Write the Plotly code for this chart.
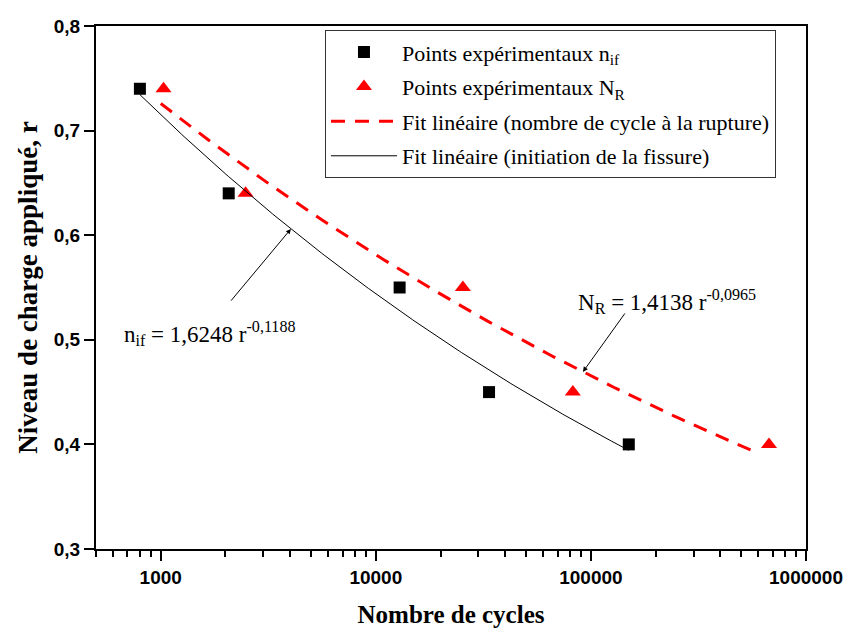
import numpy as np
import plotly.graph_objects as go

# Experimental points: crack initiation (n_if) and rupture (N_R)
cycles_if = [800, 2070, 12900, 33600, 150000]
load_if = [0.74, 0.64, 0.55, 0.45, 0.40]
cycles_R = [1030, 2480, 25400, 82400, 673000]
load_R = [0.74, 0.64, 0.55, 0.45, 0.40]

# Power-law fits r = A * N^b
fit_if_A, fit_if_b = 1.6248, -0.1188
fit_R_A, fit_R_b = 1.4138, -0.0965
fit_if_span = (800, 150000)
fit_R_span = (1000, 600000)

x_tickvals = [1000, 10000, 100000, 1000000]
x_ticktext = ["1000", "10000", "100000", "1000000"]
y_tickvals = [0.3, 0.4, 0.5, 0.6, 0.7, 0.8]

serif = "Liberation Serif, Times New Roman, serif"
sans = "Liberation Sans, Arial, sans-serif"

n_if = np.logspace(np.log10(fit_if_span[0]), np.log10(fit_if_span[1]), 200)
n_R = np.logspace(np.log10(fit_R_span[0]), np.log10(fit_R_span[1]), 200)

fig = go.Figure()
fig.add_trace(go.Scatter(
    x=cycles_if, y=load_if, mode="markers", name="Points expérimentaux n<sub>if</sub>",
    legendgroup="a", marker=dict(symbol="square", size=12, color="black"),
))
fig.add_trace(go.Scatter(
    x=cycles_R, y=load_R, mode="markers", name="Points expérimentaux N<sub>R</sub>",
    legendgroup="b", marker=dict(symbol="triangle-up", size=14, color="red"),
))
fig.add_trace(go.Scatter(
    x=n_R, y=fit_R_A * n_R ** fit_R_b, mode="lines",
    name="Fit linéaire (nombre de cycle à la rupture)", legendgroup="c",
    line=dict(color="red", width=3, dash="14px,10px"),
))
fig.add_trace(go.Scatter(
    x=n_if, y=fit_if_A * n_if ** fit_if_b, mode="lines",
    name="Fit linéaire (initiation de la fissure)", legendgroup="d",
    line=dict(color="black", width=1),
))

minor_vals = [m * 10 ** e for e in range(2, 6) for m in range(2, 10)
              if 500 <= m * 10 ** e <= 1000000]

fig.update_xaxes(
    type="log", range=[np.log10(500), 6], automargin=False,
    tickvals=x_tickvals, ticktext=x_ticktext,
    ticks="outside", ticklen=10, tickwidth=2, tickcolor="black",
    minor=dict(tickvals=minor_vals, ticks="outside", ticklen=6, tickwidth=2, tickcolor="black"),
    showline=True, linewidth=2, linecolor="black", mirror=True,
    showgrid=False, zeroline=False,
    tickfont=dict(family=sans, size=19, color="black", weight="bold"),
    title=dict(text="<b>Nombre de cycles</b>", font=dict(family=serif, size=25, color="black"),
               standoff=20),
)
fig.update_yaxes(
    range=[0.3, 0.8], tickvals=y_tickvals, tickformat=".1f", automargin=False,
    ticks="outside", ticklen=10, tickwidth=2, tickcolor="black",
    showline=True, linewidth=2, linecolor="black", mirror=True,
    showgrid=False, zeroline=False,
    tickfont=dict(family=sans, size=19, color="black", weight="bold"),
    title=dict(text="<b>Niveau de charge appliqué, r</b>", font=dict(family=serif, size=27, color="black"),
               standoff=8),
)

eq_font = dict(family=serif, size=23, color="black")
# Arrows pointing at the fitted curves
fig.add_annotation(x=np.log10(4030), y=fit_if_A * 4030 ** fit_if_b, xref="x", yref="y",
                   ax=np.log10(2095), ay=0.536, axref="x", ayref="y",
                   text="", showarrow=True, arrowhead=2, arrowsize=1, arrowwidth=1, arrowcolor="black")
fig.add_annotation(x=np.log10(91800), y=fit_R_A * 91800 ** fit_R_b, xref="x", yref="y",
                   ax=np.log10(145500), ay=0.5266, axref="x", ayref="y",
                   text="", showarrow=True, arrowhead=2, arrowsize=1, arrowwidth=1, arrowcolor="black")
fig.add_annotation(x=np.log10(1690), y=0.506, xref="x", yref="y", showarrow=False,
                   text="n<sub>if</sub> = 1,6248 r<sup>-0,1188</sup>", font=eq_font)
fig.add_annotation(x=np.log10(225000), y=0.537, xref="x", yref="y", showarrow=False,
                   text="N<sub>R</sub> = 1,4138 r<sup>-0,0965</sup>", font=eq_font)

fig.update_layout(
    width=848, height=628,
    margin=dict(l=96, r=42, t=26, b=79),
    paper_bgcolor="white", plot_bgcolor="white",
    separators=", ",
    showlegend=True,
    legend=dict(x=0.3225, y=0.992, xanchor="left", yanchor="top",
                bordercolor="#333333", borderwidth=1, bgcolor="white",
                font=dict(family=serif, size=22, color="black"),
                itemwidth=66, traceorder="grouped", tracegroupgap=3),
)

fig.write_html("out.html")
